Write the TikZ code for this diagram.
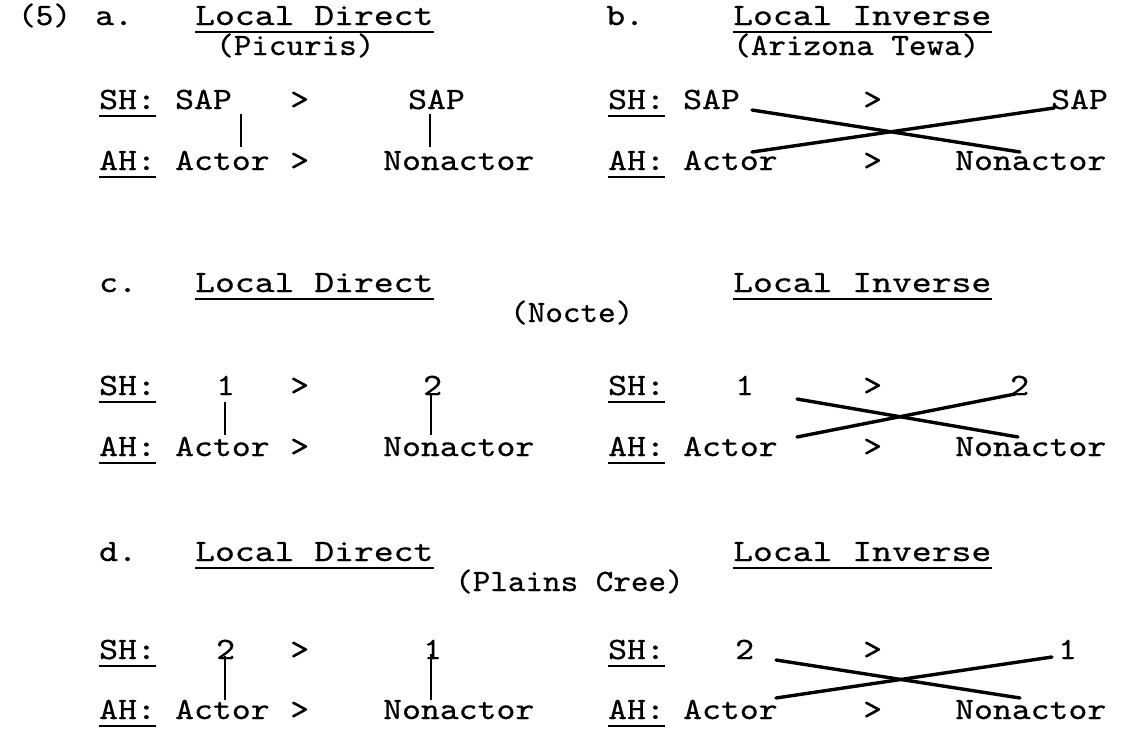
\documentclass[tikz,border=0pt]{standalone}
\usepackage{fontspec}
\newfontfamily\twbody{lmmono10-regular.otf}[FakeStretch=1.16, FakeBold=0.6]
\newfontfamily\twtitle{lmmono10-regular.otf}[FakeStretch=1.22, FakeBold=0.6]
\newfontfamily\twsub{lmmono10-regular.otf}[FakeStretch=1.08, FakeBold=0.6]
\begin{document}
\begin{tikzpicture}[x=1pt,y=-1pt,
  t/.style={anchor=base west, inner sep=0pt, font=\twbody\fontsize{31}{31}\selectfont},
  tt/.style={t, font=\twtitle\fontsize{31}{31}\selectfont},
  ts/.style={t, font=\twsub\fontsize{31}{31}\selectfont},
  ul/.style={line width=2.2pt},
  link/.style={line width=2.6pt},
  cross/.style={line width=3.4pt, line cap=round}]
\useasboundingbox (0,0) rectangle (1124,745);
\newcommand\uline[1]{\draw[ul] ([yshift=-7pt]#1.base west) -- ([yshift=-7pt]#1.base east);}
% ---- a / b headings
\node[ts] (p5) at (18,25) {(5)};
\node[t] (la) at (95,25) {a.};
\node[tt] (tA) at (195,25) {Local Direct}; \uline{tA}
\node[t] (lb) at (606,25) {b.};
\node[tt] (tB) at (733,25) {Local Inverse}; \uline{tB}
\node[ts] (sA) at (216,55) {(Picuris)};
\node[ts] (sB) at (733,55) {(Arizona Tewa)};
% a rows
\node[t] (shA) at (99,109) {SH:}; \uline{shA}
\node[t] (sapA1) at (175,109) {SAP};
\node[t] (gtA1) at (290,109) {>};
\node[t] (sapA2) at (408,109) {SAP};
\node[t] (ahA) at (99,170) {AH:}; \uline{ahA}
\node[t] (actA) at (175,170) {Actor};
\node[t] (gtA2) at (290,170) {>};
\node[t] (nonA) at (383,170) {Nonactor};
% b rows
\node[t] (shB) at (608,109) {SH:}; \uline{shB}
\node[t] (sapB1) at (683,109) {SAP};
\node[t] (gtB1) at (863,109) {>};
\node[t] (sapB2) at (1051,109) {SAP};
\node[t] (ahB) at (608,170) {AH:}; \uline{ahB}
\node[t] (actB) at (683,170) {Actor};
\node[t] (gtB2) at (863,170) {>};
\node[t] (nonB) at (955,170) {Nonactor};
% ---- c
\node[t] (lc) at (99,292) {c.};
\node[tt] (tC) at (195,292) {Local Direct}; \uline{tC}
\node[tt] (tC2) at (733,292) {Local Inverse}; \uline{tC2}
\node[ts] (nocte) at (510,322) {(Nocte)};
\node[t] (shC) at (99,395) {SH:}; \uline{shC}
\node[t] (c1) at (216,395) {1};
\node[t] (gtC1) at (290,395) {>};
\node[t] (c2) at (423,395) {2};
\node[t] (ahC) at (99,456) {AH:}; \uline{ahC}
\node[t] (actC) at (175,456) {Actor};
\node[t] (gtC2) at (290,456) {>};
\node[t] (nonC) at (383,456) {Nonactor};
\node[t] (shC2) at (608,395) {SH:}; \uline{shC2}
\node[t] (c3) at (735,395) {1};
\node[t] (gtC3) at (863,395) {>};
\node[t] (c4) at (1010,395) {2};
\node[t] (ahC2) at (608,456) {AH:}; \uline{ahC2}
\node[t] (actC2) at (683,456) {Actor};
\node[t] (gtC4) at (863,456) {>};
\node[t] (nonC2) at (955,456) {Nonactor};
% ---- d
\node[t] (ld) at (99,561) {d.};
\node[tt] (tD) at (195,561) {Local Direct}; \uline{tD}
\node[tt] (tD2) at (733,561) {Local Inverse}; \uline{tD2}
\node[ts] (cree) at (455,591) {(Plains Cree)};
\node[t] (shD) at (99,659) {SH:}; \uline{shD}
\node[t] (d1) at (216,659) {2};
\node[t] (gtD1) at (290,659) {>};
\node[t] (d2) at (423,659) {1};
\node[t] (ahD) at (99,719) {AH:}; \uline{ahD}
\node[t] (actD) at (175,719) {Actor};
\node[t] (gtD2) at (290,719) {>};
\node[t] (nonD) at (383,719) {Nonactor};
\node[t] (shD2) at (608,659) {SH:}; \uline{shD2}
\node[t] (d3) at (735,659) {2};
\node[t] (gtD3) at (863,659) {>};
\node[t] (d4) at (1058,659) {1};
\node[t] (ahD2) at (608,719) {AH:}; \uline{ahD2}
\node[t] (actD2) at (683,719) {Actor};
\node[t] (gtD4) at (863,719) {>};
\node[t] (nonD2) at (955,719) {Nonactor};
% ---- connector end points
\coordinate (a1t) at (241,114); \coordinate (a1b) at (241,147);
\coordinate (a2t) at (430,114); \coordinate (a2b) at (430,147);
\coordinate (b1s) at (752,110); \coordinate (b1e) at (1020,152);
\coordinate (b2s) at (752,152); \coordinate (b2e) at (1054,108);
\coordinate (c1t) at (225,402); \coordinate (c1b) at (225,435);
\coordinate (c2t) at (431,394); \coordinate (c2b) at (431,435);
\coordinate (c3s) at (797,399); \coordinate (c3e) at (1018,437);
\coordinate (c4s) at (797,437); \coordinate (c4e) at (1015,394);
\coordinate (d1t) at (225,656); \coordinate (d1b) at (225,700);
\coordinate (d2t) at (431,654); \coordinate (d2b) at (431,700);
\coordinate (d3s) at (776,660); \coordinate (d3e) at (1020,698);
\coordinate (d4s) at (776,698); \coordinate (d4e) at (1052,657);
\draw[link] (a1t) -- (a1b);
\draw[link] (a2t) -- (a2b);
\draw[cross] (b1s) -- (b1e);
\draw[cross] (b2s) -- (b2e);
\draw[link] (c1t) -- (c1b);
\draw[link] (c2t) -- (c2b);
\draw[cross] (c3s) -- (c3e);
\draw[cross] (c4s) -- (c4e);
\draw[link] (d1t) -- (d1b);
\draw[link] (d2t) -- (d2b);
\draw[cross] (d3s) -- (d3e);
\draw[cross] (d4s) -- (d4e);
\end{tikzpicture}
\end{document}
